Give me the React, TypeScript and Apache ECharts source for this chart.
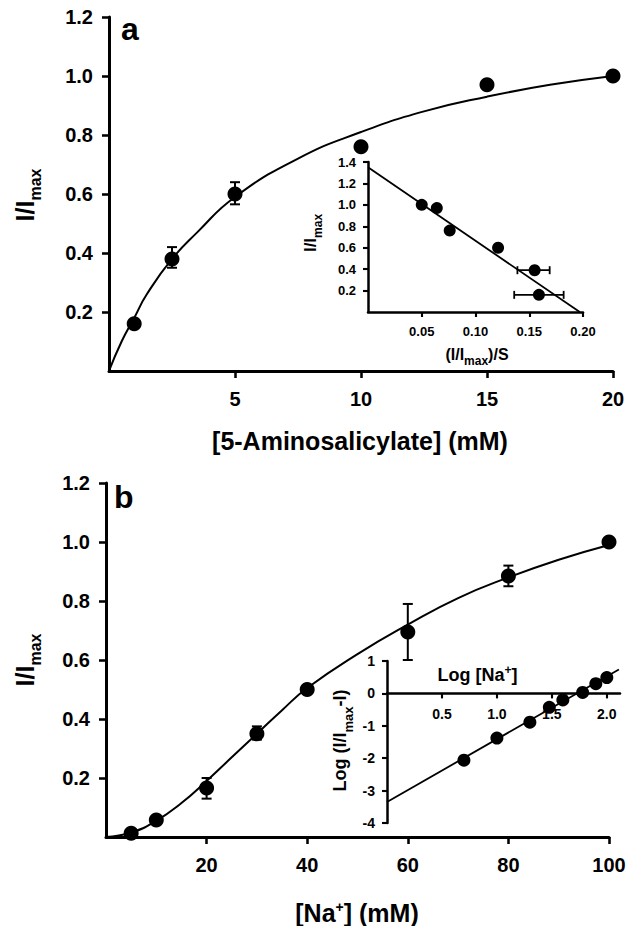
import React, { useEffect, useRef } from 'react';
import * as echarts from 'echarts';

const FONT = '"Liberation Sans", Arial, Helvetica, sans-serif';

// ---------- Panel a : main ----------
const aConc = [1, 2.5, 5, 10, 15, 20];
const aRel = [0.16, 0.38, 0.6, 0.76, 0.97, 1.0];
const aErrConc = [2.5, 5];
const aErrLow = [0.35, 0.565];
const aErrHigh = [0.42, 0.64];
const aFitConc = [0, 0.5, 1, 1.5, 2.5, 3.5, 5, 7.5, 10, 12.5, 15, 17.5, 20];
const aFitRel = [0, 0.1, 0.18, 0.26, 0.38, 0.47, 0.59, 0.72, 0.81, 0.88, 0.93, 0.97, 1.0];
const aXTicks = [5, 10, 15, 20];
const aYTicks = [0.2, 0.4, 0.6, 0.8, 1.0, 1.2];

// ---------- Panel a : inset (Eadie-Hofstee) ----------
const iaRatio = [0.05, 0.064, 0.076, 0.121, 0.155, 0.159];
const iaRel = [1.0, 0.97, 0.76, 0.6, 0.39, 0.16];
const iaErrRel = [0.39, 0.16];
const iaErrLow = [0.139, 0.136];
const iaErrHigh = [0.169, 0.182];
const iaFitRatio = [0, 0.197];
const iaFitRel = [1.35, 0];
const iaXTicks = [0.05, 0.1, 0.15, 0.2];
const iaYTicks = [0.2, 0.4, 0.6, 0.8, 1.0, 1.2, 1.4];

// ---------- Panel b : main ----------
const bNa = [5, 10, 20, 30, 40, 60, 80, 100];
const bRel = [0.013, 0.058, 0.166, 0.35, 0.5, 0.695, 0.885, 1.0];
const bErrNa = [20, 30, 60, 80];
const bErrLow = [0.13, 0.33, 0.6, 0.85];
const bErrHigh = [0.2, 0.375, 0.79, 0.92];
const bFitNa = [0, 5, 10, 15, 20, 25, 30, 35, 40, 50, 60, 70, 80, 90, 100];
const bFitRel = [0, 0.015, 0.055, 0.115, 0.19, 0.27, 0.35, 0.43, 0.505, 0.62, 0.72, 0.81, 0.88, 0.94, 0.99];
const bXTicks = [20, 40, 60, 80, 100];
const bYTicks = [0.2, 0.4, 0.6, 0.8, 1.0, 1.2];

// ---------- Panel b : inset (Hill plot) ----------
const ibLogNa = [0.7, 1.0, 1.3, 1.477, 1.6, 1.78, 1.9, 2.0];
const ibLogRatio = [-2.06, -1.38, -0.89, -0.43, -0.2, 0.03, 0.3, 0.49];
const ibFitLogNa = [0, 2.11];
const ibFitLogRatio = [-3.35, 0.74];
const ibXTicks = [0.5, 1.0, 1.5, 2.0];
const ibYMin = -4;
const ibYMax = 1;

const zip = (a: number[], b: number[]) => a.map((v, i) => [v, b[i]]);
const zip3 = (a: number[], b: number[], c: number[]) => a.map((v, i) => [v, b[i], c[i]]);

function measure(text: string, size: number): number {
  try {
    const c = document.createElement('canvas').getContext('2d');
    if (!c) return text.length * size * 0.6;
    c.font = `bold ${size}px "Liberation Sans", Arial, sans-serif`;
    return c.measureText(text).width;
  } catch (e) {
    return text.length * size * 0.6;
  }
}

type Piece = { t: string; s: number; d: number };
function label(pieces: Piece[], cx: number, cy: number, rotated: boolean) {
  const widths = pieces.map((p) => measure(p.t, p.s));
  const total = widths.reduce((a, b) => a + b, 0);
  let x = -total / 2;
  const children = pieces.map((p, i) => {
    const el = {
      type: 'text',
      x,
      y: p.d,
      style: {
        text: p.t,
        fontSize: p.s,
        fontWeight: 'bold',
        fontFamily: FONT,
        fill: '#000',
        align: 'left',
        verticalAlign: 'middle',
      },
    };
    x += widths[i];
    return el;
  });
  return { type: 'group', x: cx, y: cy, rotation: rotated ? Math.PI / 2 : 0, children, silent: true };
}

const vErr = (cap: number, lw: number) => (_p: any, api: any) => {
  const x = api.value(0);
  const top = api.coord([x, api.value(2)]);
  const bot = api.coord([x, api.value(1)]);
  const st = { stroke: '#000', lineWidth: lw };
  return {
    type: 'group',
    children: [
      { type: 'line', shape: { x1: top[0], y1: top[1], x2: bot[0], y2: bot[1] }, style: st },
      { type: 'line', shape: { x1: top[0] - cap, y1: top[1], x2: top[0] + cap, y2: top[1] }, style: st },
      { type: 'line', shape: { x1: bot[0] - cap, y1: bot[1], x2: bot[0] + cap, y2: bot[1] }, style: st },
    ],
  };
};

const hErr = (cap: number, lw: number) => (_p: any, api: any) => {
  const y = api.value(0);
  const l = api.coord([api.value(1), y]);
  const r = api.coord([api.value(2), y]);
  const st = { stroke: '#000', lineWidth: lw };
  return {
    type: 'group',
    children: [
      { type: 'line', shape: { x1: l[0], y1: l[1], x2: r[0], y2: r[1] }, style: st },
      { type: 'line', shape: { x1: l[0], y1: l[1] - cap, x2: l[0], y2: l[1] + cap }, style: st },
      { type: 'line', shape: { x1: r[0], y1: r[1] - cap, x2: r[0], y2: r[1] + cap }, style: st },
    ],
  };
};

function axis(opts: {
  grid: number;
  min: number;
  max: number;
  interval: number;
  ticks?: number[];
  fontSize: number;
  margin: number;
  decimals: number;
  lineWidth: number;
  tickLen: number;
  offset?: number;
}) {
  const a: any = {
    type: 'value',
    gridIndex: opts.grid,
    min: opts.min,
    max: opts.max,
    interval: opts.interval,
    offset: opts.offset ?? 0,
    splitLine: { show: false },
    axisLine: { show: true, onZero: false, lineStyle: { color: '#000', width: opts.lineWidth } },
    axisTick: {
      show: true,
      length: opts.tickLen,
      lineStyle: { color: '#000', width: opts.lineWidth * 0.85 },
    },
    axisLabel: {
      show: true,
      color: '#000',
      fontSize: opts.fontSize,
      fontWeight: 'bold',
      fontFamily: FONT,
      margin: opts.margin,
      formatter: (v: number) => v.toFixed(opts.decimals),
    },
  };
  if (opts.ticks) {
    a.axisTick.customValues = opts.ticks;
    a.axisLabel.customValues = opts.ticks;
  }
  return a;
}

// inset b geometry (grid box); x axis sits on y = 0 of the inset
const IB_TOP = 661;
const IB_H = 162;
const ibZeroOffset = -(IB_H * (0 - ibYMin)) / (ibYMax - ibYMin);

export default function App() {
  const ref = useRef<HTMLDivElement>(null);
  useEffect(() => {
    if (!ref.current) return;
    const chart = echarts.init(ref.current, null, { renderer: 'svg', width: 637, height: 926 });
    const black = '#000';
    const option: any = {
      animation: false,
      backgroundColor: '#fff',
      grid: [
        { left: 109, top: 17, width: 504, height: 354 },
        { left: 368, top: 162, width: 215, height: 150 },
        { left: 106, top: 483, width: 503, height: 354 },
        { left: 387, top: IB_TOP, width: 233, height: IB_H },
      ],
      xAxis: [
        axis({ grid: 0, min: 0, max: 20, interval: 5, ticks: aXTicks, fontSize: 20, margin: 18, decimals: 0, lineWidth: 3, tickLen: 7 }),
        axis({ grid: 1, min: 0, max: 0.2, interval: 0.05, ticks: iaXTicks, fontSize: 13, margin: 13, decimals: 2, lineWidth: 2.5, tickLen: 5 }),
        axis({ grid: 2, min: 0, max: 100, interval: 20, ticks: bXTicks, fontSize: 20, margin: 18, decimals: 0, lineWidth: 3, tickLen: 7 }),
        axis({ grid: 3, min: 0, max: 2.12, interval: 0.5, ticks: ibXTicks, fontSize: 14, margin: 14, decimals: 1, lineWidth: 2.5, tickLen: 5, offset: ibZeroOffset }),
      ],
      yAxis: [
        axis({ grid: 0, min: 0, max: 1.2, interval: 0.2, ticks: aYTicks, fontSize: 20, margin: 16, decimals: 1, lineWidth: 3, tickLen: 7 }),
        axis({ grid: 1, min: 0, max: 1.4, interval: 0.2, ticks: iaYTicks, fontSize: 13, margin: 12, decimals: 1, lineWidth: 2.5, tickLen: 5 }),
        axis({ grid: 2, min: 0, max: 1.2, interval: 0.2, ticks: bYTicks, fontSize: 20, margin: 16, decimals: 1, lineWidth: 3, tickLen: 7 }),
        axis({ grid: 3, min: ibYMin, max: ibYMax, interval: 1, fontSize: 14, margin: 12, decimals: 0, lineWidth: 2.5, tickLen: 5 }),
      ],
      series: [
        // panel a
        { type: 'line', xAxisIndex: 0, yAxisIndex: 0, data: zip(aFitConc, aFitRel), smooth: true, showSymbol: false, silent: true, lineStyle: { color: black, width: 2 }, z: 2 },
        { type: 'custom', xAxisIndex: 0, yAxisIndex: 0, data: zip3(aErrConc, aErrLow, aErrHigh), renderItem: vErr(5, 2), encode: { x: 0, y: [1, 2] }, silent: true, z: 3 },
        { type: 'scatter', xAxisIndex: 0, yAxisIndex: 0, data: zip(aConc, aRel), symbolSize: 15, itemStyle: { color: black, opacity: 1 }, silent: true, z: 4 },
        // inset a
        { type: 'line', xAxisIndex: 1, yAxisIndex: 1, data: zip(iaFitRatio, iaFitRel), showSymbol: false, silent: true, lineStyle: { color: black, width: 1.8 }, z: 2 },
        { type: 'custom', xAxisIndex: 1, yAxisIndex: 1, data: zip3(iaErrRel, iaErrLow, iaErrHigh), renderItem: hErr(4, 1.8), encode: { y: 0, x: [1, 2] }, silent: true, z: 3 },
        { type: 'scatter', xAxisIndex: 1, yAxisIndex: 1, data: zip(iaRatio, iaRel), symbolSize: 12, itemStyle: { color: black, opacity: 1 }, silent: true, z: 4 },
        // panel b
        { type: 'line', xAxisIndex: 2, yAxisIndex: 2, data: zip(bFitNa, bFitRel), smooth: true, showSymbol: false, silent: true, lineStyle: { color: black, width: 2 }, z: 2 },
        { type: 'custom', xAxisIndex: 2, yAxisIndex: 2, data: zip3(bErrNa, bErrLow, bErrHigh), renderItem: vErr(5, 2), encode: { x: 0, y: [1, 2] }, silent: true, z: 3 },
        { type: 'scatter', xAxisIndex: 2, yAxisIndex: 2, data: zip(bNa, bRel), symbolSize: 15, itemStyle: { color: black, opacity: 1 }, silent: true, z: 4 },
        // inset b
        { type: 'line', xAxisIndex: 3, yAxisIndex: 3, data: zip(ibFitLogNa, ibFitLogRatio), showSymbol: false, silent: true, lineStyle: { color: black, width: 1.8 }, z: 2 },
        { type: 'scatter', xAxisIndex: 3, yAxisIndex: 3, data: zip(ibLogNa, ibLogRatio), symbolSize: 13, itemStyle: { color: black, opacity: 1 }, silent: true, z: 4 },
      ],
      graphic: [
        { type: 'text', x: 121, y: 29, silent: true, style: { text: 'a', fontSize: 32, fontWeight: 'bold', fontFamily: FONT, fill: black, align: 'left', verticalAlign: 'middle' } },
        { type: 'text', x: 114, y: 497, silent: true, style: { text: 'b', fontSize: 32, fontWeight: 'bold', fontFamily: FONT, fill: black, align: 'left', verticalAlign: 'middle' } },
        label([{ t: '[5-Aminosalicylate] (mM)', s: 25, d: 0 }], 360, 441, false),
        label([{ t: '[Na', s: 25, d: 0 }, { t: '+', s: 14, d: -6 }, { t: '] (mM)', s: 25, d: 0 }], 357, 913, false),
        label([{ t: 'I/I', s: 25, d: 0 }, { t: 'max', s: 16, d: 11 }], 24.5, 195, true),
        label([{ t: 'I/I', s: 25, d: 0 }, { t: 'max', s: 16, d: 11 }], 24.5, 660, true),
        label([{ t: '(I/I', s: 16, d: 0 }, { t: 'max', s: 12, d: 6 }, { t: ')/S', s: 16, d: 0 }], 477, 354.5, false),
        label([{ t: 'I/I', s: 17, d: 0 }, { t: 'max', s: 12, d: 8 }], 310, 233, true),
        label([{ t: 'Log (I/I', s: 18, d: 0 }, { t: 'max', s: 13, d: 9 }, { t: '-I)', s: 18, d: 0 }], 339.5, 740.5, true),
        label([{ t: 'Log [Na', s: 18, d: 0 }, { t: '+', s: 12, d: -5 }, { t: ']', s: 18, d: 0 }], 477.5, 675, false),
      ],
    };
    chart.setOption(option);
    return () => chart.dispose();
  }, []);
  return (
    <div
      ref={ref}
      style={{ position: 'fixed', left: 0, top: 0, width: 637, height: 926, background: '#fff' }}
    />
  );
}
